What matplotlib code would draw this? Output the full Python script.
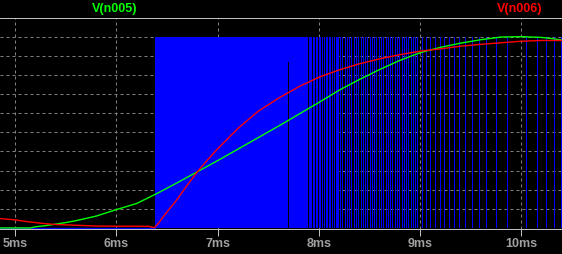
import matplotlib
matplotlib.use('Agg')
import matplotlib.pyplot as plt

# V(n005) - green trace (ms, V)
green_t = [4.85, 5.0, 5.15, 5.2, 5.3, 5.4, 5.5, 5.6, 5.8, 6.0, 6.2, 6.4, 6.6, 6.8, 7.0,
           7.2, 7.4, 7.6, 7.8, 8.0, 8.2, 8.4, 8.6, 8.8, 9.0, 9.2, 9.4, 9.6, 9.8, 10.0,
           10.2, 10.3, 10.4]
green_v = [0.0, 0.0, 0.0, 0.03, 0.06, 0.10, 0.14, 0.19, 0.31, 0.48, 0.64, 0.90, 1.18, 1.47, 1.76,
           2.06, 2.36, 2.66, 2.97, 3.28, 3.60, 3.88, 4.14, 4.38, 4.58, 4.72, 4.83, 4.92, 4.99, 5.0,
           4.98, 4.95, 4.91]

# V(n006) - red trace
red_t = [4.85, 5.0, 5.1, 5.2, 5.3, 5.4, 5.6, 5.8, 6.0, 6.2, 6.33, 6.36, 6.38, 6.42, 6.45,
         6.5, 6.6, 6.7, 6.8, 6.9, 7.0, 7.2, 7.4, 7.6, 7.8, 8.0, 8.2, 8.4, 8.6, 8.8, 9.0,
         9.2, 9.4, 9.6, 9.8, 10.0, 10.2, 10.4]
red_v = [0.245, 0.21, 0.17, 0.14, 0.11, 0.09, 0.07, 0.05, 0.045, 0.045, 0.04, 0.01, 0.02, 0.14, 0.25,
         0.42, 0.75, 1.12, 1.47, 1.78, 2.07, 2.60, 3.05, 3.39, 3.69, 3.94, 4.13, 4.29, 4.42, 4.53, 4.62,
         4.68, 4.75, 4.80, 4.84, 4.88, 4.90, 4.90]

# blue PWM signal
blue_high = 5.0
blue_low_t = [4.85, 6.376]
blue_block = [6.376, 8.19]          # solid "on" stretch
blue_gaps = [7.902, 7.935, 7.968, 7.994, 8.021, 8.043, 8.070, 8.097, 8.120, 8.142, 8.166]
blue_gap_partial = 7.695
blue_gap_partial_top = 4.33
blue_pulses = [8.194, 8.216, 8.238, 8.261, 8.284, 8.305, 8.327, 8.351, 8.374, 8.396,
               8.418, 8.441, 8.463, 8.485, 8.508, 8.531, 8.552, 8.574, 8.598, 8.621,
               8.643, 8.666, 8.688, 8.710, 8.732, 8.756, 8.779, 8.801, 8.823, 8.846,
               8.869, 8.890, 8.913, 8.936, 8.958, 8.979,
               9.026, 9.065, 9.105, 9.154, 9.197, 9.239, 9.289, 9.342, 9.394, 9.451,
               9.516, 9.585, 9.658, 9.750, 9.862, 10.053, 10.158, 10.251, 10.330, 10.395]

x_ticks = [5, 6, 7, 8, 9, 10]
x_labels = ['5ms', '6ms', '7ms', '8ms', '9ms', '10ms']
y_grid = [0.5, 1.0, 1.5, 2.0, 2.5, 3.0, 3.5, 4.0, 4.5, 5.0]

BLUE = '#0000ff'
GREEN = '#00ff00'
RED = '#ff0000'
PX = 0.72  # one pixel in points at 100 dpi

fig = plt.figure(figsize=(5.62, 2.54), dpi=100, facecolor='black')
ax = fig.add_axes([0, 0.0996, 1, 0.8284])
ax.set_facecolor('black')
ax.set_xlim(4.849, 10.402)
ax.set_ylim(-0.02, 5.48)

# width of one screen pixel in ms
px_ms = (ax.get_xlim()[1] - ax.get_xlim()[0]) / 562

# blue trace
ax.plot(blue_low_t, [0, 0], color=BLUE, lw=1, zorder=1)
ax.fill_between(blue_block, 0, blue_high, color=BLUE, lw=0, zorder=1)
ax.bar(blue_gaps, blue_high, width=px_ms, color='black', lw=0, antialiased=False, zorder=1.1)
ax.bar([blue_gap_partial], blue_gap_partial_top, width=px_ms, color='black', lw=0,
       antialiased=False, zorder=1.1)
ax.bar(blue_pulses, blue_high, width=px_ms, color=BLUE, lw=0, antialiased=False, zorder=1.2)

ax.plot(green_t, green_v, color=GREEN, lw=1, zorder=3)
ax.plot(red_t, red_v, color=RED, lw=1, zorder=3.1)

# grid / axes
ax.set_axisbelow(True)
ax.set_yticks(y_grid)
ax.set_xticks(x_ticks, labels=x_labels)
ax.grid(True, color='#808080', linestyle=(0, (3, 3)), lw=PX)
ax.tick_params(axis='y', length=0, labelleft=False)
ax.tick_params(axis='x', colors='#c0c0c0', labelcolor='#a0a0a0', length=5, width=PX,
               direction='out', pad=1.5, labelsize=9)
for lab in ax.get_xticklabels():
    lab.set_fontweight('bold')
    lab.set_family('Liberation Sans')
for side in ('left', 'right'):
    ax.spines[side].set_visible(False)
for side in ('top', 'bottom'):
    ax.spines[side].set_color('#c0c0c0')
    ax.spines[side].set_linewidth(PX)

fig.text(115 / 562, 1 - 9 / 254, 'V(n005)', color=GREEN, ha='center', va='center',
         fontsize=9, fontweight='bold', family='Liberation Sans')
fig.text(519.5 / 562, 1 - 9 / 254, 'V(n006)', color=RED, ha='center', va='center',
         fontsize=9, fontweight='bold', family='Liberation Sans')

fig.savefig('out.png', dpi=100, facecolor='black')
plt.close(fig)
